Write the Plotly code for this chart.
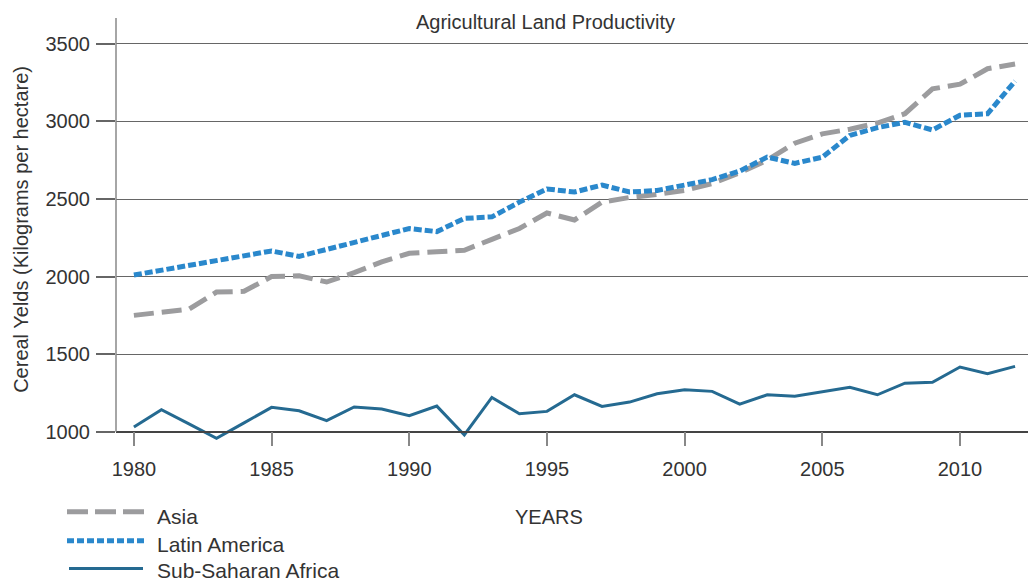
import plotly.graph_objects as go

years = list(range(1980, 2013))

asia = [1750, 1770, 1790, 1900, 1905, 2000, 2005, 1965, 2025, 2095,
        2150, 2160, 2170, 2240, 2310, 2410, 2365, 2480, 2510, 2530,
        2555, 2600, 2670, 2750, 2860, 2920, 2950, 2990, 3050, 3210,
        3240, 3340, 3370]

latin_america = [2010, 2040, 2075, 2105, 2135, 2165, 2130, 2175, 2215, 2260,
                 2310, 2290, 2375, 2385, 2480, 2565, 2545, 2590, 2545, 2555,
                 2590, 2625, 2680, 2770, 2730, 2770, 2910, 2960, 2995, 2945,
                 3040, 3050, 3260]

sub_saharan = [1030, 1142, 1050, 957, 1057, 1157, 1135, 1071, 1159, 1146,
               1103, 1165, 979, 1221, 1116, 1131, 1238, 1163, 1191, 1245,
               1270, 1260, 1178, 1238, 1228, 1257, 1286, 1238, 1313, 1318,
               1417, 1374, 1421]

series_names = ["Asia", "Latin America", "Sub-Saharan Africa"]
x_ticks = [1980, 1985, 1990, 1995, 2000, 2005, 2010]
y_ticks = [1000, 1500, 2000, 2500, 3000, 3500]

W, H = 1028, 583
PL, PR, PT, PB = 116, 1028, 18, 441.3


def px_x(px):
    return (px - PL) / (PR - PL)


def px_y(py):
    return (PB - py) / (PB - PT)


GRAY = "#9c9c9e"
BLUE = "#2a88cc"
NAVY = "#256a91"
TXT = "#333333"
FONT = "Liberation Sans"

fig = go.Figure()
fig.add_trace(go.Scatter(x=years, y=asia, mode="lines", name=series_names[0],
                         line=dict(color=GRAY, width=5, dash="20px,8px")))
fig.add_trace(go.Scatter(x=years, y=latin_america, mode="lines", name=series_names[1],
                         line=dict(color=BLUE, width=5, dash="8px,3px")))
fig.add_trace(go.Scatter(x=years, y=sub_saharan, mode="lines", name=series_names[2],
                         line=dict(color=NAVY, width=3)))

shapes = [
    # y axis line
    dict(type="line", xref="paper", yref="paper", x0=0, x1=0,
         y0=px_y(432), y1=1, line=dict(color="#888888", width=1.5)),
    # legend samples
    dict(type="line", xref="paper", yref="paper", x0=px_x(67), x1=px_x(145),
         y0=px_y(512), y1=px_y(512), line=dict(color=GRAY, width=5, dash="21px,7px")),
    dict(type="line", xref="paper", yref="paper", x0=px_x(67), x1=px_x(145),
         y0=px_y(541), y1=px_y(541), line=dict(color=BLUE, width=5, dash="7px,3px")),
    dict(type="line", xref="paper", yref="paper", x0=px_x(69), x1=px_x(143),
         y0=px_y(569), y1=px_y(569), line=dict(color=NAVY, width=3)),
]

annotations = [
    dict(text="Cereal Yelds (Kilograms per hectare)", xref="paper", yref="paper",
         x=px_x(21), y=px_y(230), textangle=-90, showarrow=False,
         xanchor="center", yanchor="middle", font=dict(size=20, color=TXT, family=FONT)),
    dict(text="YEARS", xref="paper", yref="paper", x=px_x(549), y=px_y(517),
         showarrow=False, xanchor="center", yanchor="middle",
         font=dict(size=20, color=TXT, family=FONT)),
]
for name, ypix in zip(series_names, [517, 545, 571]):
    annotations.append(dict(text=name, xref="paper", yref="paper", x=px_x(155),
                            y=px_y(ypix), showarrow=False, xanchor="left",
                            yanchor="middle",
                            font=dict(size=21, color=TXT, family=FONT)))

fig.update_layout(
    width=W, height=H,
    margin=dict(l=PL, r=W - PR, t=PT, b=H - PB, pad=0),
    paper_bgcolor="white", plot_bgcolor="white",
    showlegend=False,
    font=dict(family=FONT, size=20, color=TXT),
    title=dict(text="Agricultural Land Productivity", xref="container", yref="container",
               x=545.5 / W, y=1 - 22 / H, xanchor="center", yanchor="middle",
               font=dict(size=20, color=TXT, family=FONT)),
    shapes=shapes,
    annotations=annotations,
)

fig.update_xaxes(
    range=[1979.35, 2012.47], tickvals=x_ticks, ticks="outside", ticklen=14,
    tickwidth=1.5, tickcolor="#888888", showgrid=False, zeroline=False,
    showline=True, linecolor="#444444", linewidth=1.5,
    anchor="free", position=px_y(432), ticklabelstandoff=6,
    tickfont=dict(size=20, color=TXT, family=FONT),
)
fig.update_yaxes(
    range=[940, 3667], tickvals=y_ticks, ticks="outside", ticklen=19,
    tickwidth=1.5, tickcolor="#666666", showgrid=True, gridcolor="#666666",
    gridwidth=1.3, zeroline=False, showline=False, ticklabelstandoff=2,
    tickfont=dict(size=20, color=TXT, family=FONT),
)

fig.write_html(
    "out.html",
    config={"displayModeBar": False},
    post_script="document.body.style.margin='0';document.body.style.overflow='hidden';",
)
